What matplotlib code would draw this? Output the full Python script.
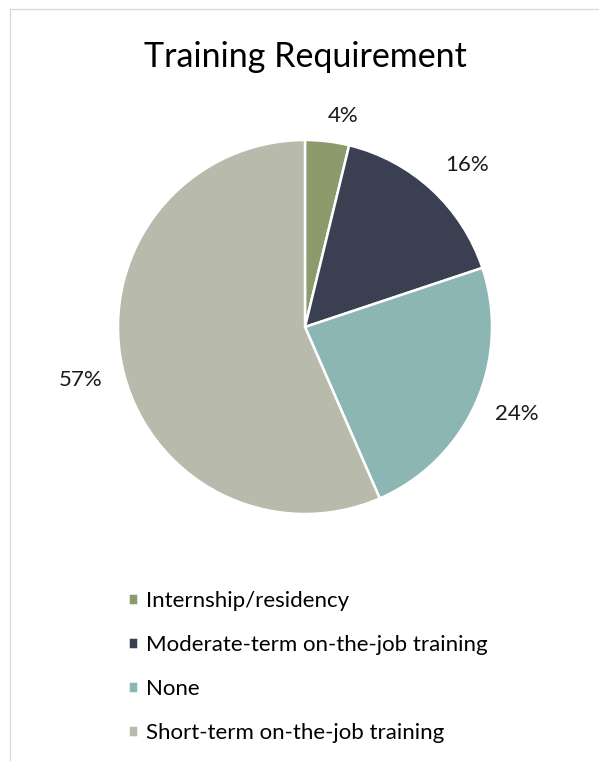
import matplotlib
matplotlib.use('Agg')
import matplotlib.pyplot as plt
from matplotlib.lines import Line2D
import numpy as np

plt.rcParams['font.family'] = ['Lato', 'DejaVu Sans']

# ---- data ----
categories = ['Internship/residency', 'Moderate-term on-the-job training',
              'None', 'Short-term on-the-job training']
shares = [3.8, 16.1, 23.6, 56.6]
colors = ['#8c9b6b', '#3a3f52', '#8bb6b4', '#b8baac']
# label placement (radius factor, clockwise nudge in degrees) - Excel "best fit" look
label_dist = [1.145, 1.225, 1.225, 1.235]
label_nudge = [3.4, 2.3, -1.7, -1.6]

W, H = 599, 761
fig = plt.figure(figsize=(W / 100, H / 100), dpi=100)

# pie axes: centre (305, 327) px, radius 187 px
cx, cy, r = 305, 327, 187
ax = fig.add_axes([(cx - r) / W, 1 - (cy + r) / H, 2 * r / W, 2 * r / H])

wedges, _ = ax.pie(shares, colors=colors, startangle=90, counterclock=False,
                   wedgeprops=dict(edgecolor='white', linewidth=1.8))
ax.set_xlim(-1, 1)
ax.set_ylim(-1, 1)
ax.set_aspect('equal')

total = sum(shares)
for w, v, d, n in zip(wedges, shares, label_dist, label_nudge):
    ang = np.deg2rad((w.theta1 + w.theta2) / 2 - n)
    ax.text(d * np.cos(ang), d * np.sin(ang), '%.0f%%' % (v / total * 100),
            ha='center', va='center', fontsize=16, color='#1a1a1a')

fig.text(cx / W, 1 - 57 / H, 'Training Requirement', ha='center', va='center',
         fontsize=24.5, color='black')

fig.legend(wedges, categories, loc='upper left',
           bbox_to_anchor=(128 / W, 1 - 591 / H), frameon=False,
           fontsize=16, handlelength=0.45, handleheight=0.45,
           handletextpad=0.35, labelspacing=1.08, borderaxespad=0,
           borderpad=0)

# chart border (only top and left visible)
fig.add_artist(Line2D([9.5 / W, 9.5 / W], [0, 1 - 8.5 / H], transform=fig.transFigure,
                      color='#d9d9d9', linewidth=0.9))
fig.add_artist(Line2D([9.5 / W, 1], [1 - 8.5 / H, 1 - 8.5 / H], transform=fig.transFigure,
                      color='#d9d9d9', linewidth=0.9))

fig.savefig('out.png', dpi=100)
